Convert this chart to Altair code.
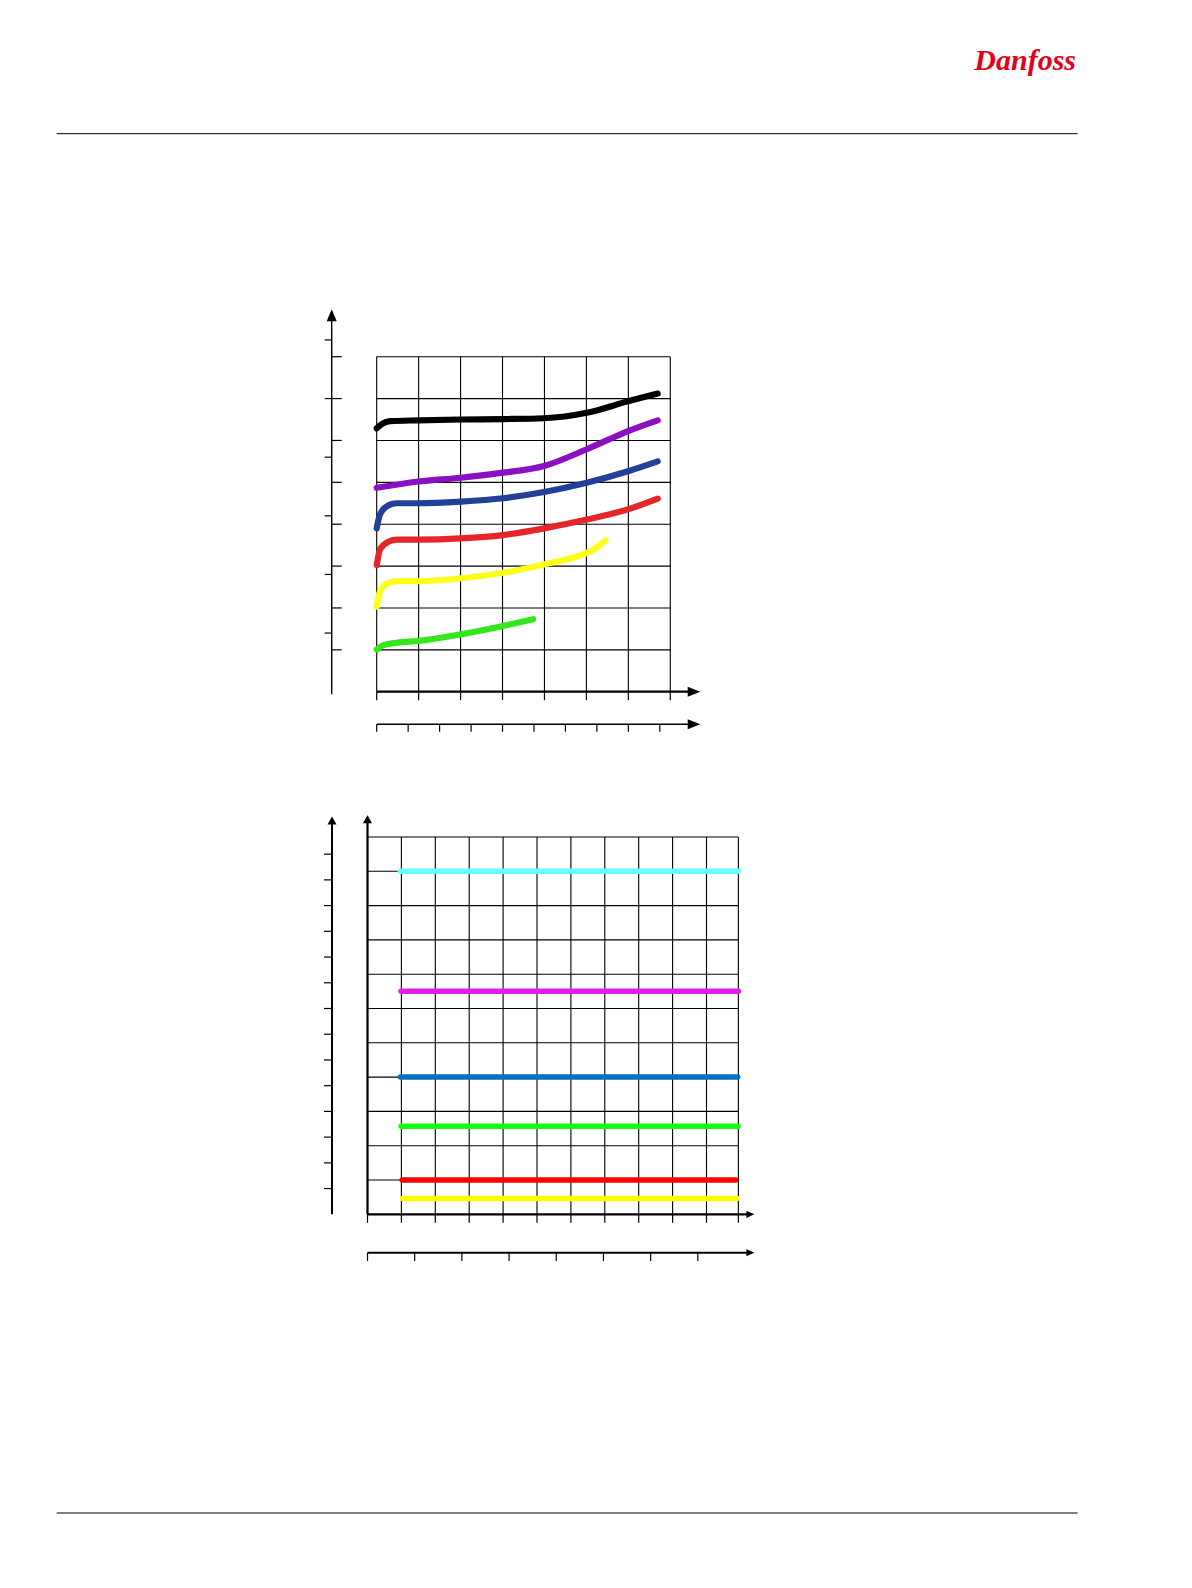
import altair as alt
import pandas as pd

# ---------------- data: upper chart (x in grid columns, y in grid rows) ----------------
black_x = [0.00, 0.12, 0.32, 0.99, 2.01, 3.01, 3.99, 5.01, 6.01, 6.70]
black_y = [6.29, 6.39, 6.46, 6.48, 6.50, 6.51, 6.53, 6.66, 6.94, 7.12]

purple_x = [0.00, 0.99, 2.01, 3.01, 3.99, 5.01, 6.01, 6.70]
purple_y = [4.87, 5.02, 5.11, 5.23, 5.39, 5.79, 6.23, 6.48]

blue_x = [0.00, 0.08, 0.28, 0.48, 0.99, 2.01, 3.01, 3.99, 5.01, 6.01, 6.70]
blue_y = [3.90, 4.24, 4.45, 4.50, 4.50, 4.54, 4.62, 4.77, 4.99, 5.27, 5.50]

red_x = [0.00, 0.08, 0.28, 0.48, 0.99, 2.01, 3.01, 3.99, 5.01, 6.01, 6.70]
red_y = [3.02, 3.40, 3.58, 3.63, 3.63, 3.66, 3.74, 3.90, 4.11, 4.36, 4.61]

yellow_x = [0.00, 0.08, 0.28, 0.52, 0.99, 2.01, 3.01, 3.99, 4.80, 5.11, 5.45]
yellow_y = [2.03, 2.40, 2.60, 2.64, 2.64, 2.71, 2.84, 3.04, 3.24, 3.36, 3.61]

green_x = [0.00, 0.16, 0.48, 0.99, 2.01, 3.01, 3.73]
green_y = [1.01, 1.11, 1.17, 1.21, 1.37, 1.57, 1.73]

curve_names = ["Curve 1", "Curve 2", "Curve 3", "Curve 4", "Curve 5", "Curve 6"]

c1_grid_cols = [0, 1, 2, 3, 4, 5, 6, 7]
c1_grid_rows = [0, 1, 2, 3, 4, 5, 6, 7, 8]
c1_axis2_ticks = [0, 0.75, 1.5, 2.25, 3.0, 3.75, 4.5, 5.25, 6.0, 6.75]
c1_left_ticks = [1.4, 2.8, 4.2, 5.6, 7.0, 8.4]

# ---------------- data: lower chart (x in grid columns, y in grid rows) ----------------
level_names = ["Level 1", "Level 2", "Level 3", "Level 4", "Level 5", "Level 6"]
level_y = [10.0, 6.5, 4.0, 2.57, 1.0, 0.46]
level_x0 = [0.97, 0.99, 0.97, 0.99, 1.02, 1.04]
level_x1 = [10.94, 10.94, 10.92, 10.93, 10.86, 10.90]

c2_grid_cols = [0, 1, 2, 3, 4, 5, 6, 7, 8, 9, 10, 10.94]
c2_grid_rows = [0, 1, 2, 3, 4, 5, 6, 7, 8, 9, 10, 11]
c2_axis2_ticks = [0, 1.392, 2.784, 4.176, 5.568, 6.96, 8.352, 9.744]
c2_left_ticks = [0.75, 1.5, 2.25, 3.0, 3.75, 4.5, 5.25, 6.0, 6.75, 7.5, 8.25, 9.0, 9.75, 10.5]

brand = ["Danfoss"]

# ---------------- styles & layout ----------------
curve_colors = ["#000000", "#8a10c2", "#22409a", "#e52628", "#ffff1a", "#35e61c"]
level_colors = ["#66ffff", "#e11de8", "#0070c0", "#14ff14", "#ff0000", "#ffff00"]
BLACK = "#000000"

PAGE_W = 1170
H_HEAD, H_C1, H_C2, H_FOOT = 152, 600, 540, 264
TOP_C1 = 8 + H_HEAD
TOP_C2 = TOP_C1 + H_C1

C1_OX, C1_OY, C1_UX, C1_UY = 375.7, 690.7, 41.94, 41.875
C2_OX, C2_OY, C2_UX, C2_UY = 366.5, 1213.3, 33.9, 34.3

UP1 = "M0,0 L-5,12 L5,12 Z"
RIGHT1 = "M0,0 L-12.6,-5 L-12.6,5 Z"
UP2 = "M0,0 L-4.5,8 L4.5,8 Z"
RIGHT2 = "M0,0 L-8,-3.6 L-8,3.6 Z"


def dom_x(ox, ux):
    return [(8 - ox) / ux, (8 + PAGE_W - ox) / ux]


def dom_y(oy, uy, top, h):
    return [(oy - (top + h)) / uy, (oy - top) / uy]


def make_enc(xd, yd):
    sx = alt.Scale(domain=xd, nice=False, zero=False)
    sy = alt.Scale(domain=yd, nice=False, zero=False)

    def X(f):
        return alt.X(f, type="quantitative", scale=sx, axis=None)

    def Y(f):
        return alt.Y(f, type="quantitative", scale=sy, axis=None)

    return X, Y


def arrow(X, Y, df, xf, yf, shape, dx=0, dy=0):
    return alt.Chart(df).mark_point(
        shape=shape, size=4, filled=True, opacity=1, color=BLACK, xOffset=dx, yOffset=dy
    ).encode(x=X(xf), y=Y(yf))


# ---------------- header ----------------
one = pd.DataFrame({"t": brand})
header = alt.layer(
    alt.Chart(one).mark_text(
        font="Liberation Serif", fontStyle="italic", fontWeight="bold", fontSize=30,
        color="#e2001a", align="right", baseline="alphabetic"
    ).encode(x=alt.value(1067), y=alt.value(60.5), text="t:N"),
    alt.Chart(one).mark_rule(color=BLACK, strokeWidth=1).encode(
        x=alt.value(47.7), x2=alt.value(1068.6), y=alt.value(124.7)
    ),
).properties(width=PAGE_W, height=H_HEAD)

# ---------------- upper chart ----------------
X1, Y1 = make_enc(dom_x(C1_OX, C1_UX), dom_y(C1_OY, C1_UY, TOP_C1, H_C1))

rows = []
for name, xs, ys in zip(
    curve_names,
    [black_x, purple_x, blue_x, red_x, yellow_x, green_x],
    [black_y, purple_y, blue_y, red_y, yellow_y, green_y],
):
    for i, (a, b) in enumerate(zip(xs, ys)):
        rows.append({"curve": name, "i": i, "x": a, "y": b})
curves1 = pd.DataFrame(rows)

c1_last_col = c1_grid_cols[-1]
c1_top = c1_grid_rows[-1]
vg1 = pd.DataFrame({"x": c1_grid_cols, "y0": 0, "y1": c1_top})
hg1 = pd.DataFrame({"y": c1_grid_rows[1:], "x0": 0, "x1": c1_last_col})
xt1 = pd.DataFrame({"x": c1_grid_cols, "y": 0})
ax1 = pd.DataFrame({"x0": [0], "x1": [c1_last_col], "y": [0], "ytop": [c1_top]})
st1 = pd.DataFrame({"x": c1_axis2_ticks, "y": 0})
rt1 = pd.DataFrame({"y": c1_grid_rows[1:], "x": 0})
lt1 = pd.DataFrame({"y": c1_left_ticks, "x": 0})

upper = alt.layer(
    alt.Chart(vg1).mark_rule(color=BLACK, strokeWidth=1.1).encode(x=X1("x"), y=Y1("y0"), y2="y1"),
    alt.Chart(hg1).mark_rule(color=BLACK, strokeWidth=1.1).encode(x=X1("x0"), x2="x1", y=Y1("y")),
    # main x axis
    alt.Chart(xt1).mark_rule(color=BLACK, strokeWidth=1.2, y2Offset=8.5).encode(x=X1("x"), y=Y1("y"), y2="y"),
    alt.Chart(ax1).mark_rule(color=BLACK, strokeWidth=2.2, x2Offset=22).encode(x=X1("x0"), x2="x1", y=Y1("y")),
    arrow(X1, Y1, ax1, "x1", "y", RIGHT1, dx=30),
    # secondary x axis
    alt.Chart(st1).mark_rule(color=BLACK, strokeWidth=1.2, yOffset=32.6, y2Offset=40).encode(x=X1("x"), y=Y1("y"), y2="y"),
    alt.Chart(ax1).mark_rule(color=BLACK, strokeWidth=1.4, yOffset=32.6, y2Offset=32.6, x2Offset=22).encode(
        x=X1("x0"), x2="x1", y=Y1("y"), y2="y"),
    arrow(X1, Y1, ax1, "x1", "y", RIGHT1, dx=30, dy=32.6),
    # left axis
    alt.Chart(ax1).mark_rule(color=BLACK, strokeWidth=1.4, xOffset=-45, x2Offset=-45, yOffset=2.6, y2Offset=-40).encode(
        x=X1("x0"), x2="x0", y=Y1("y"), y2="ytop"),
    arrow(X1, Y1, ax1, "x0", "ytop", UP1, dx=-45, dy=-47.4),
    alt.Chart(rt1).mark_rule(color=BLACK, strokeWidth=1.2, xOffset=-45, x2Offset=-35).encode(x=X1("x"), x2="x", y=Y1("y")),
    alt.Chart(lt1).mark_rule(color=BLACK, strokeWidth=1.2, xOffset=-45, x2Offset=-52).encode(x=X1("x"), x2="x", y=Y1("y")),
    # curves
    alt.Chart(curves1).mark_line(strokeWidth=6.2, strokeCap="round", strokeJoin="round", interpolate="monotone").encode(
        x=X1("x"), y=Y1("y"),
        color=alt.Color("curve:N", scale=alt.Scale(domain=curve_names, range=curve_colors), legend=None),
        order="i:Q",
    ),
).properties(width=PAGE_W, height=H_C1)

# ---------------- lower chart ----------------
X2, Y2 = make_enc(dom_x(C2_OX, C2_UX), dom_y(C2_OY, C2_UY, TOP_C2, H_C2))

c2_last_col = c2_grid_cols[-1]
c2_top = c2_grid_rows[-1]
vg2 = pd.DataFrame({"x": c2_grid_cols, "y0": 0, "y1": c2_top})
hg2 = pd.DataFrame({"y": c2_grid_rows[1:], "x0": 0, "x1": c2_last_col})
xt2 = pd.DataFrame({"x": c2_grid_cols, "y": 0})
ax2 = pd.DataFrame({"x0": [0], "x1": [c2_last_col], "y": [0], "ytop": [c2_top]})
st2 = pd.DataFrame({"x": c2_axis2_ticks, "y": 0})
lt2 = pd.DataFrame({"y": c2_left_ticks, "x": 0})
levels = pd.DataFrame({"name": level_names, "y": level_y, "x0": level_x0, "x1": level_x1})

lower = alt.layer(
    alt.Chart(vg2).mark_rule(color=BLACK, strokeWidth=1.1).encode(x=X2("x"), y=Y2("y0"), y2="y1"),
    alt.Chart(hg2).mark_rule(color=BLACK, strokeWidth=1.1).encode(x=X2("x0"), x2="x1", y=Y2("y")),
    # main x axis
    alt.Chart(xt2).mark_rule(color=BLACK, strokeWidth=1.2, y2Offset=8.5).encode(x=X2("x"), y=Y2("y"), y2="y"),
    alt.Chart(ax2).mark_rule(color=BLACK, strokeWidth=2.2, x2Offset=10).encode(x=X2("x0"), x2="x1", y=Y2("y")),
    arrow(X2, Y2, ax2, "x1", "y", RIGHT2, dx=16),
    # secondary x axis
    alt.Chart(st2).mark_rule(color=BLACK, strokeWidth=1.2, yOffset=38.4, y2Offset=46.7).encode(x=X2("x"), y=Y2("y"), y2="y"),
    alt.Chart(ax2).mark_rule(color=BLACK, strokeWidth=2, yOffset=38.4, y2Offset=38.4, x2Offset=10).encode(
        x=X2("x0"), x2="x1", y=Y2("y"), y2="y"),
    arrow(X2, Y2, ax2, "x1", "y", RIGHT2, dx=16, dy=38.4),
    # inner y axis
    alt.Chart(ax2).mark_rule(color=BLACK, strokeWidth=2.2, y2Offset=-15).encode(
        x=X2("x0"), x2="x0", y=Y2("y"), y2="ytop"),
    arrow(X2, Y2, ax2, "x0", "ytop", UP2, dy=-21.7),
    # outer y axis
    alt.Chart(ax2).mark_rule(color=BLACK, strokeWidth=2, xOffset=-35.5, x2Offset=-35.5, y2Offset=-14).encode(
        x=X2("x0"), x2="x0", y=Y2("y"), y2="ytop"),
    arrow(X2, Y2, ax2, "x0", "ytop", UP2, dx=-35.5, dy=-20.5),
    alt.Chart(lt2).mark_rule(color=BLACK, strokeWidth=1.2, xOffset=-35.5, x2Offset=-43.5).encode(x=X2("x"), x2="x", y=Y2("y")),
    # level lines
    alt.Chart(levels).mark_rule(strokeWidth=5.5, strokeCap="round").encode(
        x=X2("x0"), x2="x1", y=Y2("y"),
        color=alt.Color("name:N", scale=alt.Scale(domain=level_names, range=level_colors), legend=None),
    ),
).properties(width=PAGE_W, height=H_C2)

# ---------------- footer ----------------
footer = alt.layer(
    alt.Chart(one).mark_rule(color=BLACK, strokeWidth=1).encode(
        x=alt.value(47.7), x2=alt.value(1068.6), y=alt.value(212)
    ),
).properties(width=PAGE_W, height=H_FOOT)

chart = alt.vconcat(
    header, upper, lower, footer, spacing=0, bounds="flush", padding=0
).resolve_scale(x="independent", y="independent", color="independent").configure_view(stroke="transparent")

chart.save("out.html", embed_options={"renderer": "svg", "actions": False})
